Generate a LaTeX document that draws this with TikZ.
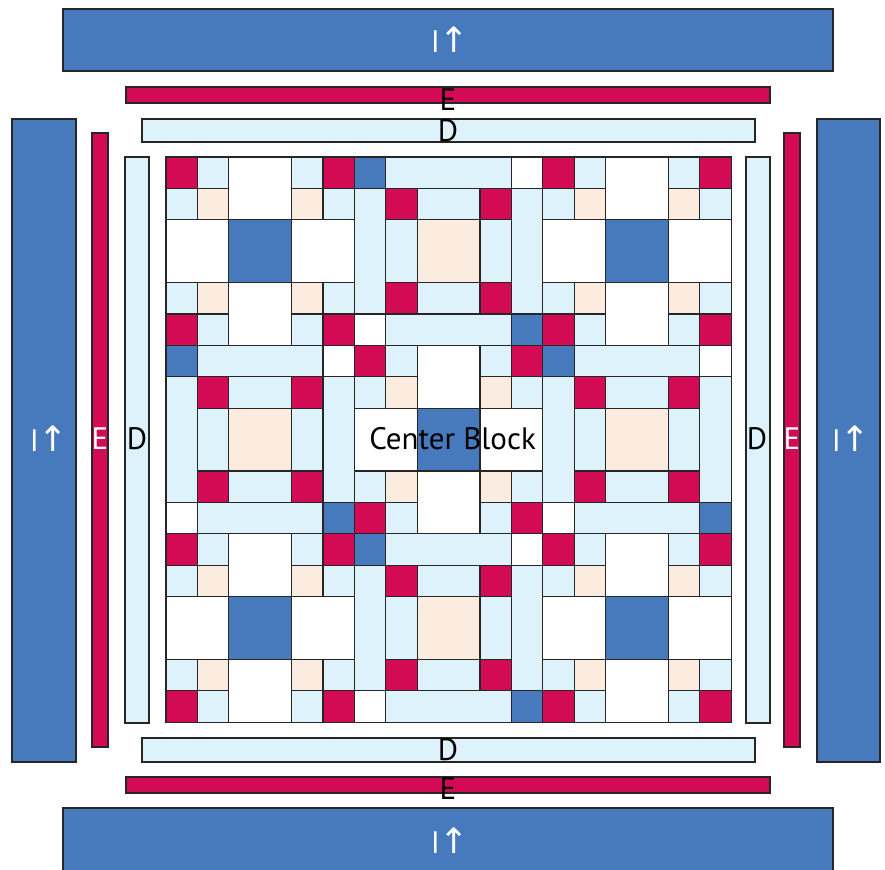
\documentclass[tikz,border=0pt]{standalone}
\usepackage{fontspec}
\setmainfont{PT Sans}
\newfontfamily\arrowfont{DejaVu Sans}
\usepackage{tikz}
\usetikzlibrary{positioning}

\definecolor{qblue}{RGB}{71,122,189}
\definecolor{qred}{RGB}{211,10,84}
\definecolor{qsky}{RGB}{222,242,251}
\definecolor{qpeach}{RGB}{252,235,223}

\begin{document}
\begin{tikzpicture}[
  x=1pt, y=-1pt,
  every node/.style={font=\fontsize{31}{34}\selectfont, inner sep=0pt},
  patch/.style={draw=black!85, line width=1.1pt},
  strip/.style={draw=black!85, line width=1.1pt},
  wlbl/.style={text=white},
  % nine-patch style block with blue middle
  blocka/.pic={
    \foreach \c/\r in {0/0,5/0,0/5,5/5}
      \draw[patch, fill=qred] (\c,\r) rectangle ++(1,1);
    \foreach \c/\r in {1/0,4/0,0/1,5/1,0/4,5/4,1/5,4/5}
      \draw[patch, fill=qsky] (\c,\r) rectangle ++(1,1);
    \foreach \c/\r in {1/1,4/1,1/4,4/4}
      \draw[patch, fill=qpeach] (\c,\r) rectangle ++(1,1);
    \foreach \c/\r in {2/0,0/2,4/2,2/4}
      \draw[patch, fill=white] (\c,\r) rectangle ++(2,2);
    \draw[patch, fill=qblue] (2,2) rectangle ++(2,2);
  },
  % framed block with peach middle
  blockb/.pic={
    \foreach \c/\r in {0/0,5/5}
      \draw[patch, fill=qblue] (\c,\r) rectangle ++(1,1);
    \foreach \c/\r in {5/0,0/5}
      \draw[patch, fill=white] (\c,\r) rectangle ++(1,1);
    \foreach \r in {0,5}
      \draw[patch, fill=qsky] (1,\r) rectangle ++(4,1);
    \foreach \c in {0,5}
      \draw[patch, fill=qsky] (\c,1) rectangle ++(1,4);
    \foreach \c/\r in {1/1,4/1,1/4,4/4}
      \draw[patch, fill=qred] (\c,\r) rectangle ++(1,1);
    \foreach \r in {1,4}
      \draw[patch, fill=qsky] (2,\r) rectangle ++(2,1);
    \foreach \c in {1,4}
      \draw[patch, fill=qsky] (\c,2) rectangle ++(1,2);
    \draw[patch, fill=qpeach] (2,2) rectangle ++(2,2);
  }
]
\useasboundingbox (0,0) rectangle (885,869);

% Border I
\draw[strip, fill=qblue] (63,9) rectangle (833,71);
\draw[strip, fill=qblue] (63,808) rectangle (833,875);
\draw[strip, fill=qblue] (12,119) rectangle (76,762);
\draw[strip, fill=qblue] (817,119) rectangle (880,762);

% Border E
\draw[strip, fill=qred] (126,87) rectangle (770,103);
\draw[strip, fill=qred] (126,777) rectangle (770,793);
\draw[strip, fill=qred] (92,133) rectangle (108,747);
\draw[strip, fill=qred] (784,133) rectangle (800,747);

% Border D
\draw[strip, fill=qsky] (142,119) rectangle (755,142);
\draw[strip, fill=qsky] (142,738) rectangle (755,762);
\draw[strip, fill=qsky] (125,157) rectangle (149,723);
\draw[strip, fill=qsky] (746,157) rectangle (770,723);

% Quilt center
\begin{scope}[shift={(166,157)}, x=31.4pt, y=-31.4pt]
  \foreach \c/\r in {0/0,12/0,6/6,0/12,12/12}
    \pic at (\c,\r) {blocka};
  \foreach \c/\r in {6/0,0/6,12/6,6/12}
    \pic at (\c,\r) {blockb};
  \coordinate (mid) at (9,9);
\end{scope}

% Labels
\node (center) at ([xshift=4pt,yshift=1pt]mid) {Center Block};
\node[wlbl] (itop) at (450,40) {I{\arrowfont\fontsize{35}{38}\selectfont ↑}};
\node[wlbl] (ibot) at (450,841) {I{\arrowfont\fontsize{35}{38}\selectfont ↑}};
\node[wlbl] (ileft) at (49,439) {I{\arrowfont\fontsize{35}{38}\selectfont ↑}};
\node[wlbl] (iright) at (851,439) {I{\arrowfont\fontsize{35}{38}\selectfont ↑}};
\node (etop) at (448,100) {E};
\node (ebot) at (448,789) {E};
\node[wlbl] (eleft) at (100,439) {E};
\node[wlbl] (eright) at (792,439) {E};
\node (dtop) at (448,131) {D};
\node (dbot) at (448,750) {D};
\node (dleft) at (137,439) {D};
\node (dright) at (757,439) {D};
\end{tikzpicture}
\end{document}
